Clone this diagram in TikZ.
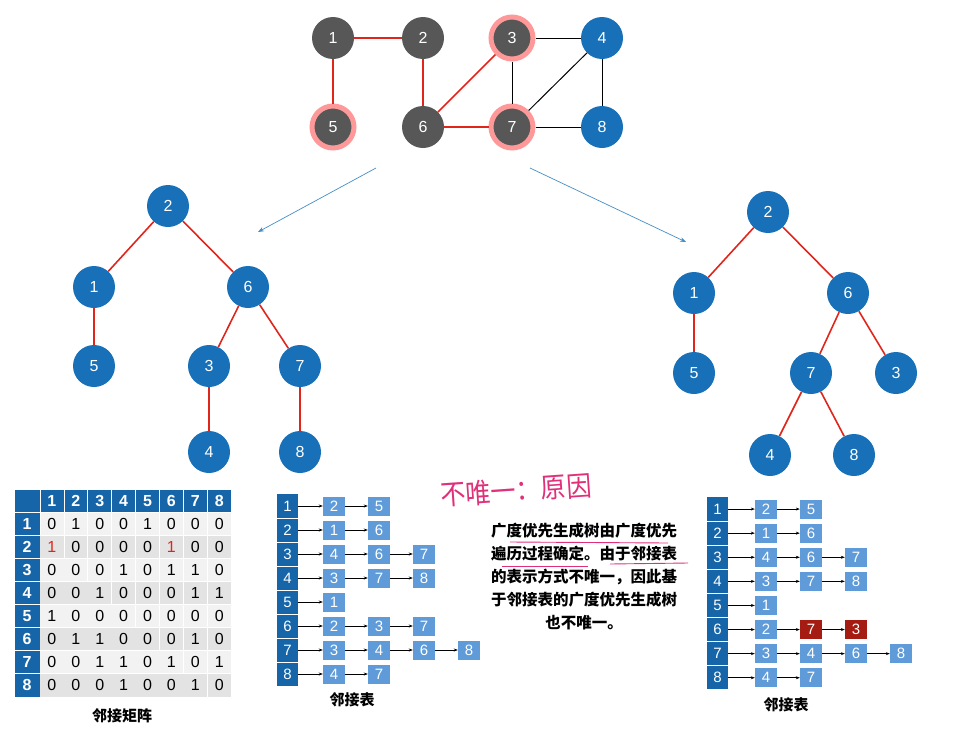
\documentclass[tikz,border=0pt]{standalone}
\usepackage{fontspec}
\setmainfont{Liberation Sans}
\newfontfamily\cjk{Noto Sans CJK SC}
\usetikzlibrary{arrows.meta}
\definecolor{nodeblue}{HTML}{1770B8}
\definecolor{nodegray}{HTML}{575757}
\definecolor{headblue}{HTML}{1565A8}
\definecolor{boxblue}{HTML}{5E9BD8}
\definecolor{treered}{HTML}{E0261C}
\definecolor{inkpink}{HTML}{E0307A}
\definecolor{darkred}{HTML}{A51C12}
\tikzset{
  vtx/.style={circle,minimum size=42pt,inner sep=0pt,fill=nodeblue,text=white,font=\fontsize{16}{18}\selectfont},
  gvtx/.style={vtx,fill=nodegray},
  glow/.style={gvtx,draw=red!40,line width=5pt},
  redge/.style={treered,line width=1.6pt},
  kedge/.style={black,line width=1pt},
  lbox/.style={minimum width=22pt,minimum height=19pt,inner sep=0pt,fill=boxblue,text=white,font=\fontsize{15}{17}\selectfont},
  lhead/.style={minimum width=21pt,minimum height=24pt,inner sep=0pt,text=white,font=\fontsize{15}{17}\selectfont},
  mcell/.style={font=\fontsize{16}{18}\selectfont},
  larr/.style={-{Stealth[length=4pt]},line width=0.6pt},
  captext/.style={font=\cjk\bfseries\fontsize{15}{17}\selectfont}
}
\begin{document}
\begin{tikzpicture}[x=1pt,y=-1pt]
	\useasboundingbox (0,0) rectangle (953,747);
	%top graph
	\node[gvtx] (g1) at (333,38) {1};
	\node[gvtx] (g2) at (423,38) {2};
	\node[glow] (g3) at (512,38) {3};
	\node[vtx] (g4) at (602,38) {4};
	\node[glow] (g5) at (333,127) {5};
	\node[gvtx] (g6) at (423,127) {6};
	\node[glow] (g7) at (512,127) {7};
	\node[vtx] (g8) at (602,127) {8};
	\foreach \a/\b in {g1/g2,g1/g5,g2/g6,g3/g6,g6/g7}
		\draw[redge] (\a) -- (\b);
	\foreach \a/\b in {g3/g7,g3/g4,g4/g7,g4/g8,g7/g8}
		\draw[kedge] (\a) -- (\b);
	% arrows to trees
	\coordinate (s1) at (376,168);
	\coordinate (e1) at (258,232);
	\coordinate (s2) at (530,168);
	\coordinate (e2) at (686,242);
	\draw[-{Stealth[length=6pt]},nodeblue!80,line width=0.7pt] (s1) -- (e1);
	\draw[-{Stealth[length=6pt]},nodeblue!80,line width=0.7pt] (s2) -- (e2);
	%left tree
	\node[vtx] (a2) at (168,206) {2};
	\node[vtx] (a1) at (94,287) {1};
	\node[vtx] (a6) at (248,287) {6};
	\node[vtx] (a5) at (94,366) {5};
	\node[vtx] (a3) at (209,366) {3};
	\node[vtx] (a7) at (300,366) {7};
	\node[vtx] (a4) at (209,452) {4};
	\node[vtx] (a8) at (300,452) {8};
	\foreach \a/\b in {a2/a1,a2/a6,a1/a5,a6/a3,a6/a7,a3/a4,a7/a8}
		\draw[redge] (\a) -- (\b);
	%right tree
	\node[vtx] (b2) at (768,212) {2};
	\node[vtx] (b1) at (694,293) {1};
	\node[vtx] (b6) at (848,293) {6};
	\node[vtx] (b5) at (694,373) {5};
	\node[vtx] (b7) at (811,373) {7};
	\node[vtx] (b3) at (896,373) {3};
	\node[vtx] (b4) at (770,455) {4};
	\node[vtx] (b8) at (854,455) {8};
	\foreach \a/\b in {b2/b1,b2/b6,b1/b5,b6/b7,b6/b3,b7/b4,b7/b8}
		\draw[redge] (\a) -- (\b);
	%matrix
	\fill[headblue] (15,490) rectangle (231,512);
	\fill[headblue] (15,490) rectangle (40,697);
	\foreach \r in {1,...,8} {
		\pgfmathsetmacro{\yt}{512+(\r-1)*23.1}
		\ifodd\r \fill[gray!10] (40,\yt) rectangle (231,\yt+23.1);
		\else \fill[gray!22] (40,\yt) rectangle (231,\yt+23.1); \fi
		\node[mcell,text=white,font=\bfseries\fontsize{16}{18}\selectfont] (mr\r) at (27,\yt+11.5) {\r};
		\node[mcell,text=white,font=\bfseries\fontsize{16}{18}\selectfont] (mc\r) at (40+\r*23.9-12,501) {\r};
		\draw[white,line width=0.8pt] (15,\yt) -- (231,\yt);
		\draw[white,line width=0.8pt] (40+\r*23.9-23.9,490) -- (40+\r*23.9-23.9,697);
	}
	\foreach \row [count=\r] in {{0,1,0,0,1,0,0,0},{1,0,0,0,0,1,0,0},{0,0,0,1,0,1,1,0},{0,0,1,0,0,0,1,1},{1,0,0,0,0,0,0,0},{0,1,1,0,0,0,1,0},{0,0,1,1,0,1,0,1},{0,0,0,1,0,0,1,0}}
		\foreach \v [count=\c] in \row
			\node[mcell] (m\r-\c) at (40+\c*23.9-12,512+\r*23.1-11.5) {\v};
	\node[mcell,text=treered,fill=gray!22,inner sep=1pt] at (m2-1) {1};
	\node[mcell,text=treered,fill=gray!22,inner sep=1pt] at (m2-6) {1};
	\node[captext] (mcap) at (122,716) {邻接矩阵};
	%adjacency list left
	\fill[headblue] (277,494) rectangle (298,686);
	\foreach \r/\lst in {1/{2,5},2/{1,6},3/{4,6,7},4/{3,7,8},5/{1},6/{2,3,7},7/{3,4,6,8},8/{4,7}} {
		\pgfmathsetmacro{\yc}{494+(\r-0.5)*24}
		\node[lhead] (lh\r) at (287.5,\yc) {\r};
		\draw[white,line width=0.8pt] (277,494+\r*24) -- (298,494+\r*24);
		\foreach \v [count=\c] in \lst
			\node[lbox] (l\r-\c) at ({334+(\c-1)*45},\yc) {\v};
		\draw[larr] (lh\r.east) -- (l\r-1);
		\foreach \v [count=\c] in \lst {
			\ifnum\c>1 \pgfmathtruncatemacro{\p}{\c-1}\draw[larr] (l\r-\p) -- (l\r-\c); \fi
		}
	}
	\node[captext] (lcap) at (352,700) {邻接表};
	%adjacency list right
	\fill[headblue] (707,497) rectangle (728,690);
	\foreach \r/\lst in {1/{2,5},2/{1,6},3/{4,6,7},4/{3,7,8},5/{1},6/{2,7,3},7/{3,4,6,8},8/{4,7}} {
		\pgfmathsetmacro{\yc}{497+(\r-0.5)*24.1}
		\node[lhead] (rh\r) at (717.5,\yc) {\r};
		\draw[white,line width=0.8pt] (707,497+\r*24.1) -- (728,497+\r*24.1);
		\foreach \v [count=\c] in \lst
			\node[lbox] (r\r-\c) at ({766+(\c-1)*45},\yc) {\v};
		\draw[larr] (rh\r.east) -- (r\r-1);
		\foreach \v [count=\c] in \lst {
			\ifnum\c>1 \pgfmathtruncatemacro{\p}{\c-1}\draw[larr] (r\r-\p) -- (r\r-\c); \fi
		}
	}
	\node[lbox,fill=darkred] at (r6-2) {7};
	\node[lbox,fill=darkred] at (r6-3) {3};
	\node[captext] (rcap) at (786,705) {邻接表};
	% note
	\node[text=inkpink,font=\cjk\fontsize{28}{30}\selectfont,rotate=4,xscale=0.9] (ink) at (516,490) {不唯一：原因};
	\node[align=center,font=\cjk\bfseries\fontsize{15.5}{23}\selectfont,inner sep=0pt,text width=220pt] (note) at (584,576)
		{广度优先生成树由广度优先\\遍历过程确定。由于邻接表\\的表示方式不唯一，因此基\\于邻接表的广度优先生成树\\也不唯一。};
	\coordinate (u1) at (510,542);
	\coordinate (u2) at (668,543);
	\coordinate (u3) at (502,566);
	\coordinate (u4) at (588,566);
	\coordinate (u5) at (610,564);
	\coordinate (u6) at (688,563);
	\draw[inkpink,line width=0.9pt] (u1) -- (u2);
	\draw[inkpink,line width=0.9pt] (u3) -- (u4);
	\draw[inkpink,line width=0.9pt] (u5) -- (u6);
\end{tikzpicture}
\end{document}
